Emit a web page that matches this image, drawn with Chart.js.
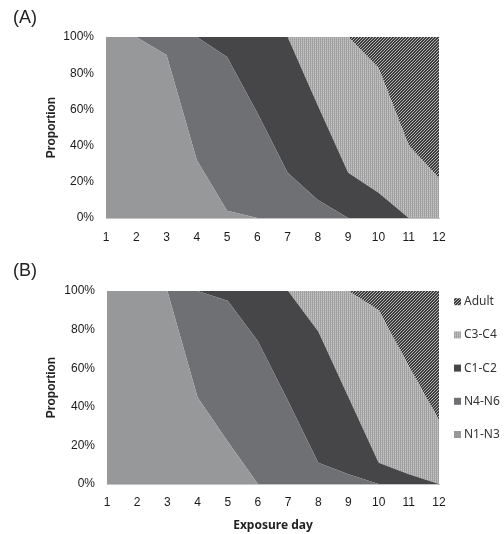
<!DOCTYPE html>
<html>
<head>
<meta charset="utf-8">
<script src="https://cdn.jsdelivr.net/npm/chart.js@4"></script>
<style>
  body { margin: 0; background: #fff; }
  .wrap { position: relative; width: 504px; height: 534px; }
  .panel { position: absolute; left: 0; }
  .tag { position: absolute; left: 13px; font: 18px "Liberation Sans", Arial, sans-serif; color: #222; }
</style>
</head>
<body>
<div class="wrap">
  <canvas id="chartA" class="panel" style="top:0" width="504" height="255"></canvas>
  <canvas id="chartB" class="panel" style="top:255px" width="504" height="279"></canvas>
  <div class="tag" style="top:7px">(A)</div>
  <div class="tag" style="top:260px">(B)</div>
</div>
<script>
const days = ['1', '2', '3', '4', '5', '6', '7', '8', '9', '10', '11', '12'];
const stages = ['N1-N3', 'N4-N6', 'C1-C2', 'C3-C4', 'Adult'];
const yTicks = [0, 20, 40, 60, 80, 100];

// panel A, % of each stage per day
const aN1 = [100, 100, 90, 32, 4, 0, 0, 0, 0, 0, 0, 0];
const aN4 = [0, 0, 10, 68, 85, 58, 25, 10, 0, 0, 0, 0];
const aC1 = [0, 0, 0, 0, 11, 42, 75, 52, 25, 14, 0, 0];
const aC3 = [0, 0, 0, 0, 0, 0, 0, 38, 75, 69, 40, 22];
const aAdult = [0, 0, 0, 0, 0, 0, 0, 0, 0, 17, 60, 78];

// panel B
const bN1 = [100, 100, 100, 45, 22, 0, 0, 0, 0, 0, 0, 0];
const bN4 = [0, 0, 0, 55, 73, 74, 43, 11, 5, 0, 0, 0];
const bC1 = [0, 0, 0, 0, 5, 26, 57, 68, 40, 11, 5, 0];
const bC3 = [0, 0, 0, 0, 0, 0, 0, 21, 55, 79, 56, 33];
const bAdult = [0, 0, 0, 0, 0, 0, 0, 0, 0, 10, 39, 67];

function makePattern(size, base, dots, ink) {
  const c = document.createElement('canvas');
  c.width = size; c.height = size;
  const g = c.getContext('2d');
  g.fillStyle = base;
  g.fillRect(0, 0, size, size);
  g.fillStyle = ink;
  dots.forEach(d => g.fillRect(d[0], d[1], 1, 1));
  return g.createPattern(c, 'repeat');
}

const probe = document.createElement('canvas').getContext('2d');
const dotted = (() => {
  const c = document.createElement('canvas');
  c.width = 2; c.height = 2;
  const g = c.getContext('2d');
  g.fillStyle = '#c4c4c4'; g.fillRect(0, 0, 2, 2);
  g.fillStyle = '#a0a0a0'; g.fillRect(0, 0, 1, 2);
  g.fillStyle = '#b2b2b2'; g.fillRect(1, 1, 1, 1);
  return probe.createPattern(c, 'repeat');
})();
const hatched = makePattern(3, '#3c3c3c', [[2, 0], [1, 1], [0, 2]], '#b4b4b4');

const fills = ['#97989a', '#6f7073', '#464648', dotted, hatched];

function datasets(series) {
  return series.map((vals, i) => ({
    label: stages[i],
    data: vals,
    backgroundColor: fills[i],
    borderColor: 'transparent',
    borderWidth: 0,
    pointRadius: 0,
    pointHoverRadius: 0,
    tension: 0,
    fill: i === 0 ? 'origin' : '-1'
  }));
}

const sideLegend = {
  id: 'sideLegend',
  afterDraw(chart, args, opts) {
    if (!opts.show) return;
    const ctx = chart.ctx;
    ctx.save();
    ctx.font = '12px "Noto Sans", sans-serif';
    ctx.textBaseline = 'middle';
    chart.data.datasets.slice().reverse().forEach((ds, i) => {
      const y = 46.7 + i * 33.2;
      ctx.fillStyle = ds.backgroundColor;
      ctx.fillRect(454, y - 3.5, 7, 7);
      ctx.fillStyle = '#333';
      ctx.fillText(ds.label, 464, y);
    });
    ctx.restore();
  }
};

function config(series, opt) {
  return {
    type: 'line',
    data: { labels: days, datasets: datasets(series) },
    plugins: [sideLegend],
    options: {
      responsive: false,
      animation: false,
      events: [],
      layout: { padding: { top: opt.top, left: 13, right: 65, bottom: 0 } },
      plugins: {
        legend: { display: false },
        tooltip: { enabled: false },
        sideLegend: { show: opt.legend }
      },
      scales: {
        x: {
          offset: false,
          grid: { display: false, drawTicks: false },
          border: { display: true, color: '#c4c4c4' },
          ticks: { color: '#1a1a1a', padding: opt.xPad, maxRotation: 0, font: { family: 'Liberation Sans', size: 12 } },
          title: {
            display: opt.xTitle,
            text: 'Exposure day',
            color: '#222',
            padding: { top: 0, bottom: 1 },
            font: { family: 'Noto Sans', size: 12, weight: 'bold' }
          },
          afterFit: s => { s.height = opt.xHeight; }
        },
        y: {
          stacked: true,
          min: 0,
          max: 100,
          afterBuildTicks: s => { s.ticks = yTicks.map(v => ({ value: v })); },
          grid: { display: false, drawTicks: false },
          border: { display: false },
          ticks: { color: '#1a1a1a', padding: 12, callback: v => v + '%', font: { family: 'Liberation Sans', size: 12 } },
          title: {
            display: true,
            text: 'Proportion',
            color: '#222',
            padding: { top: 31, bottom: 0 },
            font: { family: 'Liberation Sans', size: 12, weight: 'bold' }
          },
          afterFit: s => { s.width = opt.yWidth; }
        }
      }
    }
  };
}

new Chart(document.getElementById('chartA'),
  config([aN1, aN4, aC1, aC3, aAdult], { top: 37, xHeight: 37, yWidth: 93, xPad: 12, xTitle: false, legend: false }));

new Chart(document.getElementById('chartB'),
  config([bN1, bN4, bC1, bC3, bAdult], { top: 36, xHeight: 50, yWidth: 94, xPad: 11, xTitle: true, legend: true }));
</script>
</body>
</html>
